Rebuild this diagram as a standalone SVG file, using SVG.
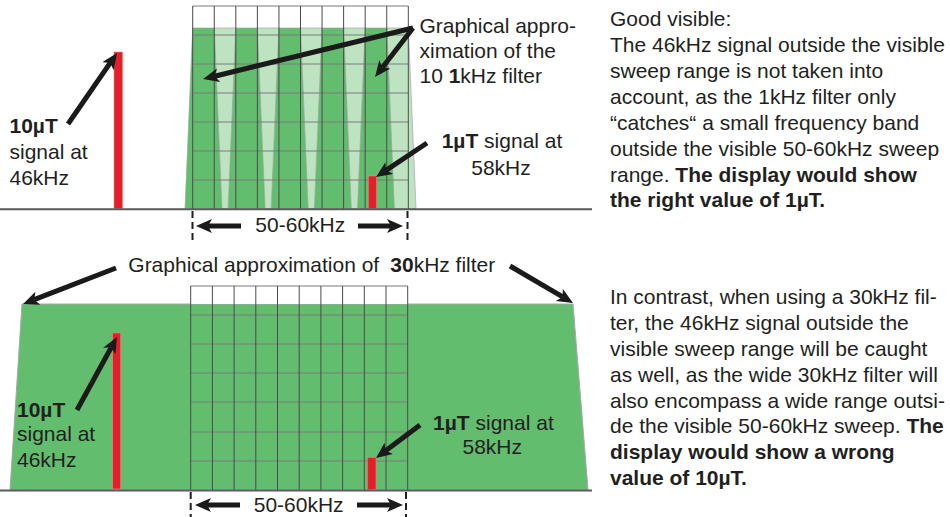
<svg xmlns="http://www.w3.org/2000/svg" width="950" height="517" viewBox="0 0 950 517">
<style>
  text { font-family: "Liberation Sans", Arial, sans-serif; font-size: 20px; fill: #231f20; }
  .b { font-weight: bold; }
  .mid { text-anchor: middle; }
  .dk { fill: #62bd6f; stroke: #a4a4a4; stroke-width: 0.7; }
  .lt { fill: #bee3c0; stroke: #a4a4a4; stroke-width: 0.7; }
  .vg { stroke: #4a4a4a; stroke-width: 1; fill: none; }
  .hg { stroke: #7a7a7a; stroke-width: 1; fill: none; }
  .red { fill: #e3202a; stroke: #f08080; stroke-width: 0.6; }
  .base { stroke: #5a5a5a; stroke-width: 2; fill: none; }
  .dash { stroke: #231f20; stroke-width: 2; stroke-dasharray: 7 4; fill: none; }
  .arr { stroke: #1a1a1a; stroke-width: 5; fill: none; marker-end: url(#ah); }
</style>
<defs>
  <marker id="ah" markerUnits="userSpaceOnUse" markerWidth="18" markerHeight="16" refX="4" refY="7" orient="auto">
    <path d="M0,0 L16,7 L0,14 L4,7 Z" fill="#1a1a1a"/>
  </marker>
</defs>
<rect width="950" height="517" fill="#ffffff"/>

<g id="top-chart">
  <!-- light 1kHz filters -->
  <polygon class="lt" points="214.26,28 235.82,28 243.5,208.5 206.5,208.5"/>
  <polygon class="lt" points="257.38,28 278.94,28 286.6,208.5 249.7,208.5"/>
  <polygon class="lt" points="300.5,28 322.06,28 329.8,208.5 292.8,208.5"/>
  <polygon class="lt" points="343.62,28 365.18,28 372.9,208.5 335.9,208.5"/>
  <polygon class="lt" points="386.74,28 408.3,28 416,208.5 379,208.5"/>
  <!-- dark 1kHz filters -->
  <polygon class="dk" points="192.7,28 214.26,28 222,208.5 185,208.5"/>
  <polygon class="dk" points="235.82,28 257.38,28 265.1,208.5 228.1,208.5"/>
  <polygon class="dk" points="278.94,28 300.5,28 308.2,208.5 271.2,208.5"/>
  <polygon class="dk" points="322.06,28 343.62,28 351.3,208.5 314.4,208.5"/>
  <polygon class="dk" points="365.18,28 386.74,28 394.4,208.5 357.5,208.5"/>
  <!-- grid -->
  <path class="hg" d="M192.7,6 H408.3 M192.7,35 H408.3 M192.7,64 H408.3 M192.7,93 H408.3 M192.7,122 H408.3 M192.7,151 H408.3 M192.7,180 H408.3"/>
  <path class="vg" d="M192.7,6 V209 M214.26,6 V209 M235.82,6 V209 M257.38,6 V209 M278.94,6 V209 M300.5,6 V209 M322.06,6 V209 M343.62,6 V209 M365.18,6 V209 M386.74,6 V209 M408.3,6 V209"/>
  <!-- signals -->
  <rect class="red" x="114" y="52" width="8.5" height="156.5"/>
  <rect class="red" x="368.3" y="176" width="8.3" height="32.5"/>
  <!-- baseline and range markers -->
  <line class="base" x1="0" y1="209.3" x2="592" y2="209.3"/>
  <line class="dash" x1="192.5" y1="211" x2="192.5" y2="243"/>
  <line class="dash" x1="407.5" y1="211" x2="407.5" y2="243"/>
</g>

<g id="bottom-chart">
  <polygon fill="#62bd6f" stroke="#a8a8a8" stroke-width="1" points="22,304 573,304 588,489.5 10,489.5"/>
  <rect x="190.7" y="286" width="217" height="18" fill="#ffffff"/>
  <path class="hg" d="M190.7,286 H407.7 M190.7,315 H407.7 M190.7,344 H407.7 M190.7,373 H407.7 M190.7,402 H407.7 M190.7,432 H407.7 M190.7,461 H407.7"/>
  <path class="vg" d="M190.7,286 V490 M212.4,286 V490 M234.1,286 V490 M255.8,286 V490 M277.5,286 V490 M299.2,286 V490 M320.9,286 V490 M342.6,286 V490 M364.3,286 V490 M386,286 V490 M407.7,286 V490"/>
  <rect class="red" x="112.7" y="333" width="8" height="156"/>
  <rect class="red" x="367.3" y="457.3" width="8.7" height="32"/>
  <line class="base" x1="0" y1="490.5" x2="592" y2="490.5"/>
  <line class="dash" x1="190.7" y1="492" x2="190.7" y2="517"/>
  <line class="dash" x1="406" y1="492" x2="406" y2="517"/>
</g>

<g id="connectors">
  <line class="arr" x1="68" y1="124" x2="110.2" y2="62.9"/>
  <line class="arr" x1="413" y1="28" x2="214.7" y2="76.2"/>
  <line class="arr" x1="413" y1="28" x2="382.4" y2="67.5"/>
  <line class="arr" x1="427" y1="143" x2="386" y2="170.3"/>
  <line class="arr" x1="241" y1="226" x2="208" y2="226"/>
  <line class="arr" x1="358" y1="226" x2="391" y2="226"/>
  <line class="arr" x1="116" y1="268" x2="34.2" y2="299.7"/>
  <line class="arr" x1="510" y1="266" x2="562.7" y2="296.9"/>
  <line class="arr" x1="77" y1="410" x2="111.2" y2="347.5"/>
  <line class="arr" x1="420" y1="425" x2="385.6" y2="450.8"/>
  <line class="arr" x1="240" y1="505" x2="207" y2="505"/>
  <line class="arr" x1="357" y1="505" x2="391" y2="505"/>
</g>

<g id="label-top-10uT" transform="translate(9.5,0) scale(1.05,1)">
  <text x="0" y="133" class="b">10µT</text>
  <text x="0" y="159.5">signal at</text>
  <text x="0" y="185">46kHz</text>
</g>
<g id="label-top-filter" transform="translate(419.5,0) scale(1.05,1)">
  <text x="0" y="33">Graphical appro-</text>
  <text x="0" y="58">ximation of the</text>
  <text x="0" y="83">10 <tspan class="b">1</tspan>kHz filter</text>
</g>
<g id="label-top-1uT">
  <g transform="translate(502,0) scale(1.05,1)"><text x="0" y="148" class="mid"><tspan class="b">1µT</tspan> signal at</text></g>
  <g transform="translate(501,0) scale(1.05,1)"><text x="0" y="175" class="mid">58kHz</text></g>
</g>
<g id="label-top-range" transform="translate(300.3,0) scale(1.05,1)">
  <text x="0" y="231.7" class="mid">50-60kHz</text>
</g>
<g id="text-top" transform="translate(610,0) scale(1.05,1)">
  <text x="0" y="26">Good visible:</text>
  <text x="0" y="52">The 46kHz signal outside the visible</text>
  <text x="0" y="78">sweep range is not taken into</text>
  <text x="0" y="104">account, as the 1kHz filter only</text>
  <text x="0" y="130">“catches“ a small frequency band</text>
  <text x="0" y="156">outside the visible 50-60kHz sweep</text>
  <text x="0" y="181.7">range. <tspan class="b">The display would show</tspan></text>
  <text x="0" y="207.3" class="b">the right value of 1µT.</text>
</g>

<g id="label-bottom-filter" transform="translate(128.3,0) scale(1.05,1)">
  <text x="0" y="271.7">Graphical approximation of <tspan class="b" dx="5">30</tspan>kHz filter</text>
</g>
<g id="label-bottom-10uT" transform="translate(17,0) scale(1.05,1)">
  <text x="0" y="416.7" class="b">10µT</text>
  <text x="0" y="441">signal at</text>
  <text x="0" y="466.7">46kHz</text>
</g>
<g id="label-bottom-1uT">
  <g transform="translate(493.4,0) scale(1.05,1)"><text x="0" y="430" class="mid"><tspan class="b">1µT</tspan> signal at</text></g>
  <g transform="translate(492.2,0) scale(1.05,1)"><text x="0" y="454" class="mid">58kHz</text></g>
</g>
<g id="label-bottom-range" transform="translate(298.7,0) scale(1.05,1)">
  <text x="0" y="511.7" class="mid">50-60kHz</text>
</g>
<g id="text-bottom" transform="translate(610,0) scale(1.05,1)">
  <text x="0" y="304.3">In contrast, when using a 30kHz fil-</text>
  <text x="0" y="330">ter, the 46kHz signal outside the</text>
  <text x="0" y="356">visible sweep range will be caught</text>
  <text x="0" y="381.7">as well, as the wide 30kHz filter will</text>
  <text x="0" y="407.7">also encompass a wide range outsi-</text>
  <text x="0" y="433.3">de the visible 50-60kHz sweep. <tspan class="b">The</tspan></text>
  <text x="0" y="459" class="b">display would show a wrong</text>
  <text x="0" y="485" class="b">value of 10µT.</text>
</g>
</svg>
